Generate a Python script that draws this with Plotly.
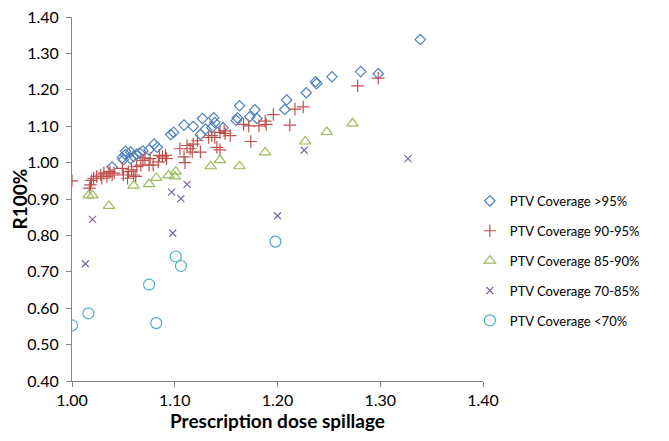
import plotly.graph_objects as go

# PTV Coverage >95%
gt95_x = [1.039, 1.049, 1.050, 1.052, 1.052, 1.057, 1.057, 1.060, 1.063, 1.066,
          1.069, 1.075, 1.080, 1.083, 1.096, 1.099, 1.109, 1.118, 1.125, 1.127,
          1.130, 1.136, 1.138, 1.139, 1.147, 1.160, 1.161, 1.163, 1.173, 1.178,
          1.180, 1.207, 1.209, 1.228, 1.237, 1.238, 1.253, 1.281, 1.298, 1.339]
gt95_y = [0.988, 1.013, 1.008, 1.031, 1.022, 1.029, 1.011, 1.017, 1.023, 1.026,
          1.032, 1.035, 1.051, 1.042, 1.077, 1.083, 1.103, 1.099, 1.077, 1.121,
          1.092, 1.096, 1.123, 1.110, 1.096, 1.116, 1.123, 1.156, 1.126, 1.145,
          1.121, 1.146, 1.172, 1.192, 1.222, 1.217, 1.236, 1.250, 1.244, 1.338]

# PTV Coverage 90-95%
c90_x = [1.000, 1.017, 1.018, 1.019, 1.021, 1.024, 1.028, 1.029, 1.031, 1.034,
         1.036, 1.037, 1.039, 1.041, 1.049, 1.050, 1.054, 1.055, 1.058, 1.060,
         1.062, 1.063, 1.067, 1.069, 1.071, 1.075, 1.076, 1.079, 1.084, 1.085,
         1.088, 1.091, 1.092, 1.105, 1.109, 1.110, 1.112, 1.115, 1.117, 1.118,
         1.122, 1.125, 1.133, 1.136, 1.139, 1.141, 1.144, 1.144, 1.148, 1.149,
         1.154, 1.167, 1.172, 1.174, 1.182, 1.188, 1.189, 1.196, 1.212, 1.217,
         1.225, 1.278, 1.298]
c90_y = [0.950, 0.930, 0.939, 0.951, 0.957, 0.962, 0.966, 0.957, 0.971, 0.962,
         0.971, 0.975, 0.966, 0.971, 0.984, 0.966, 0.957, 0.975, 0.980, 0.966,
         0.962, 0.989, 0.993, 1.006, 1.013, 0.993, 1.011, 0.993, 1.002, 1.020,
         1.016, 1.020, 1.011, 1.038, 1.016, 1.000, 1.047, 1.038, 1.029, 1.051,
         1.060, 1.029, 1.069, 1.074, 1.069, 1.042, 1.035, 1.083, 1.087, 1.080,
         1.074, 1.105, 1.101, 1.058, 1.101, 1.114, 1.105, 1.132, 1.103, 1.147,
         1.153, 1.211, 1.232]

# PTV Coverage 85-90%
c85_x = [1.016, 1.020, 1.036, 1.060, 1.075, 1.082, 1.094, 1.100, 1.101, 1.135,
         1.144, 1.163, 1.188, 1.227, 1.248, 1.273]
c85_y = [0.910, 0.910, 0.881, 0.937, 0.941, 0.958, 0.965, 0.962, 0.975, 0.990,
         1.007, 0.990, 1.028, 1.058, 1.084, 1.108]

# PTV Coverage 70-85%
c70_x = [1.013, 1.020, 1.098, 1.097, 1.106, 1.112, 1.200, 1.226, 1.327]
c70_y = [0.722, 0.844, 0.806, 0.919, 0.901, 0.940, 0.854, 1.034, 1.011]

# PTV Coverage <70%
lt70_x = [1.000, 1.016, 1.075, 1.082, 1.101, 1.106, 1.198]
lt70_y = [0.553, 0.586, 0.665, 0.559, 0.742, 0.716, 0.783]

x_ticks = [1.0, 1.1, 1.2, 1.3, 1.4]
y_ticks = [0.4, 0.5, 0.6, 0.7, 0.8, 0.9, 1.0, 1.1, 1.2, 1.3, 1.4]

series = [
    ("PTV Coverage >95%", gt95_x, gt95_y, "diamond-open", "#4F81BD", 8),
    ("PTV Coverage 90-95%", c90_x, c90_y, "cross-thin-open", "#C0504D", 9),
    ("PTV Coverage 85-90%", c85_x, c85_y, "triangle-up-open", "#9BBB59", 10),
    ("PTV Coverage 70-85%", c70_x, c70_y, "x-thin-open", "#8064A2", 7),
    ("PTV Coverage <70%", lt70_x, lt70_y, "circle-open", "#4BACC6", 11),
]

fig = go.Figure()
for name, xs, ys, symbol, color, size in series:
    fig.add_trace(go.Scatter(
        x=xs, y=ys, mode="markers", name=name, legendgroup=name,
        marker=dict(symbol=symbol, size=size, color=color,
                    line=dict(color=color, width=1.2)),
    ))

axis_style = dict(
    showgrid=False, zeroline=False, showline=True, linecolor="#868686",
    linewidth=1, ticks="outside", ticklen=5, tickcolor="#868686",
    tickfont=dict(family="Lato", size=16, color="#000000"),
    tickformat=".2f", automargin=False, ticklabeloverflow="allow",
)

# the page adds an 8px body margin, so the figure margins are pulled in by 8
fig.update_layout(
    width=669, height=441,
    margin=dict(l=64, r=194, t=9, b=68),
    paper_bgcolor="white", plot_bgcolor="white",
    font=dict(family="Lato", color="#000000"),
    xaxis=dict(range=[1.0, 1.4], tickvals=x_ticks, **axis_style,
               title=dict(text="<b>Prescription dose spillage</b>",
                          font=dict(size=19), standoff=4)),
    yaxis=dict(range=[0.4, 1.4], tickvals=y_ticks, ticklabelstandoff=4,
               **axis_style,
               title=dict(text="<b>R100%</b>", font=dict(size=19), standoff=2)),
    legend=dict(x=0.968, y=0.33, yanchor="middle", xanchor="left",
                font=dict(family="Lato", size=13, color="#000000"),
                tracegroupgap=10),
)

fig.write_html("out.html")
